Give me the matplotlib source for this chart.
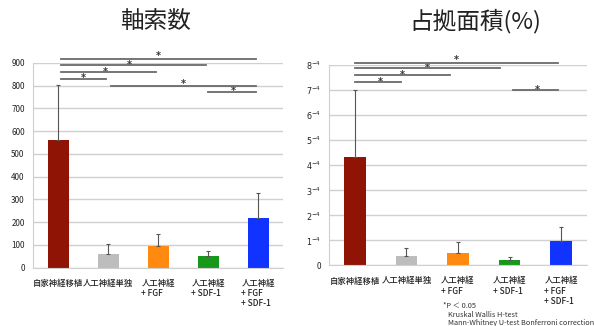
import numpy as np
import matplotlib.pyplot as plt

plt.rcParams['font.family'] = ['Noto Sans CJK JP', 'DejaVu Sans']

# categories and colours shared by both panels
groups = ['自家神経移植', '人工神経単独', '人工神経\n+ FGF', '人工神経\n+ SDF-1', '人工神経\n+ FGF\n+ SDF-1']
colors = ['#8f1405', '#bdbdbd', '#ff8a0f', '#18981a', '#1133ff']

# axon count: means and upper error
axon_mean = [562, 59, 96, 52, 218]
axon_err = [240, 44, 51, 22, 110]

# occupied area (x1e-4 %): means and upper error
area_mean = [4.34, 0.36, 0.49, 0.20, 0.99]
area_err = [2.66, 0.35, 0.43, 0.15, 0.56]
area_ticks = [0, 1, 2, 3, 4, 5, 6, 7, 8]
area_ticklabels = ['0'] + [f'${t}^{{-4}}$' for t in area_ticks[1:]]

# significance brackets: (x start, x end, height, star x, star height)
axon_sig = [(0.05, 3.95, 916, 2.0, 943),
            (0.05, 2.95, 893, 1.42, 903),
            (0.05, 1.95, 860, 0.94, 870),
            (0.05, 0.95, 829, 0.5, 843),
            (1.05, 3.95, 800, 2.5, 820),
            (3.0, 3.95, 773, 3.5, 787)]
area_sig = [(0.0, 3.94, 8.08, 1.96, 8.31),
            (0.0, 2.81, 7.89, 1.4, 7.98),
            (0.0, 1.84, 7.61, 0.93, 7.70),
            (0.0, 0.9, 7.34, 0.5, 7.45),
            (3.07, 3.94, 7.01, 3.53, 7.12)]

fig = plt.figure(figsize=(5.94, 3.26), dpi=100)
ax1 = fig.add_axes([0.0556, 0.179, 0.421, 0.628])
ax2 = fig.add_axes([0.554, 0.186, 0.434, 0.614])


def draw_panel(ax, means, errs, sig, ymax):
    x = np.arange(len(means))
    ax.set_axisbelow(True)
    ax.yaxis.grid(True, color='#d0d0d0', lw=1)
    ax.bar(x, means, width=0.42, color=colors, zorder=2)
    ax.errorbar(x, means, yerr=[np.zeros(len(errs)), errs], fmt='none',
                ecolor='#555555', elinewidth=0.8, capsize=1.2, capthick=0.8, zorder=3)
    for x0, x1, h, sx, sh in sig:
        ax.plot([x0, x1], [h, h], color='#6a6a6a', lw=1.3, clip_on=False, zorder=4)
        # asterisk glyph sits high, so drop the baseline to centre it on sh
        ax.annotate('*', xy=(sx, sh), xytext=(0, -4), textcoords='offset points',
                    ha='center', va='baseline', fontsize=7, fontweight='bold',
                    family='DejaVu Sans', color='#333333', annotation_clip=False)
    ax.set_xlim(-0.5, len(means) - 0.5)
    ax.set_ylim(0, ymax)
    ax.set_xticks(x)
    ax.set_xticklabels(groups, fontsize=6, fontweight='medium', linespacing=1.15,
                       multialignment='left')
    ax.tick_params(length=0, pad=8, colors='#222222')
    ax.tick_params(axis='y', labelsize=5.8, pad=6)
    for s in ['top', 'right']:
        ax.spines[s].set_visible(False)
    ax.spines['left'].set_color('#cfcfcf')
    ax.spines['bottom'].set_color('#cfcfcf')


draw_panel(ax1, axon_mean, axon_err, axon_sig, 900)
ax1.set_yticks(range(0, 901, 100))

draw_panel(ax2, area_mean, area_err, area_sig, 8)
ax2.set_yticks(area_ticks)
ax2.set_yticklabels(area_ticklabels)

fig.text(0.261, 0.935, '軸索数', ha='center', va='center', fontsize=17, color='#222222')
fig.text(0.80, 0.935, '占拠面積(%)', ha='center', va='center', fontsize=17, color='#222222')

fig.text(0.745, 0.062, '*P ＜ 0.05', fontsize=5.3, color='#333333', va='center')
fig.text(0.755, 0.035, 'Kruskal Wallis H-test', fontsize=5.3, color='#333333', va='center')
fig.text(0.755, 0.010, 'Mann-Whitney U-test Bonferroni correction', fontsize=5.3, color='#333333', va='center')

fig.savefig('out.png', dpi=100)
